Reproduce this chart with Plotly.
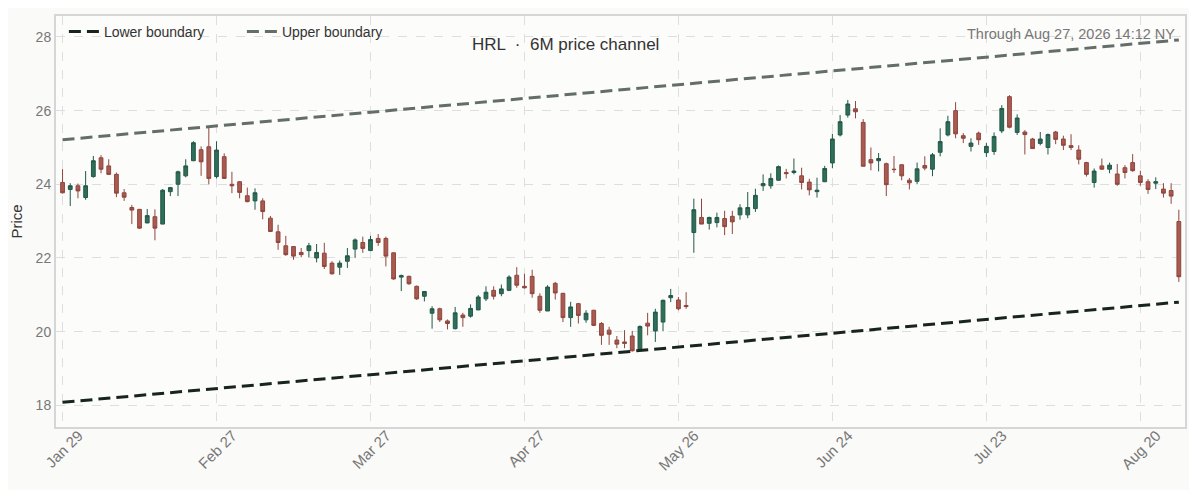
import pandas as pd
import plotly.graph_objects as go

# ---- data ----
holidays = ["2026-02-16", "2026-04-03", "2026-05-25", "2026-06-19", "2026-07-03"]
dates = [d for d in pd.bdate_range("2026-01-29", "2026-08-27") if d.strftime("%Y-%m-%d") not in holidays]
date_labels = [d.strftime("%Y-%m-%d") for d in dates]

open_ = [24.05, 23.86, 23.96, 23.64, 24.21, 24.72, 24.50, 24.27, 23.77, 23.37,
         23.32, 22.95, 23.12, 22.92, 23.80, 24.00, 24.23, 24.64, 24.94, 25.02,
         24.21, 24.75, 24.00, 24.07, 23.69, 23.55, 23.55, 23.08, 22.71, 22.33,
         22.31, 22.15, 22.20, 22.00, 22.13, 21.86, 21.75, 21.91, 22.24, 22.42,
         22.20, 22.53, 22.53, 22.14, 21.48, 21.50, 21.23, 20.96, 20.50, 20.62,
         20.29, 20.08, 20.45, 20.42, 20.59, 20.89, 21.12, 21.03, 21.12, 21.53,
         21.23, 21.50, 20.96, 20.56, 21.31, 21.04, 20.38, 20.76, 20.32, 20.58,
         20.22, 20.04, 19.77, 19.72, 19.88, 19.52, 20.23, 20.02, 20.26, 20.92,
         20.86, 20.71, 22.69, 23.10, 22.94, 22.96, 23.07, 23.13, 23.17, 23.17,
         23.34, 23.96, 23.96, 24.11, 24.32, 24.32, 24.23, 24.06, 23.80, 24.07,
         24.58, 25.34, 25.88, 26.05, 25.68, 24.67, 24.64, 24.56, 24.41, 24.53,
         24.11, 24.08, 24.51, 24.41, 24.87, 25.34, 26.00, 25.32, 25.03, 25.39,
         24.86, 24.89, 25.45, 26.38, 25.41, 25.42, 25.23, 25.11, 25.00, 25.42,
         25.23, 25.05, 24.93, 24.59, 24.05, 24.50, 24.41, 24.28, 24.45, 24.59,
         24.23, 24.07, 24.03, 23.87, 23.83, 22.99]
high = [24.41, 24.03, 24.02, 24.36, 24.77, 24.79, 24.68, 24.32, 23.87, 23.44,
        23.33, 23.33, 23.32, 23.87, 23.93, 24.37, 24.68, 25.17, 25.03, 25.56,
        25.17, 24.84, 24.34, 24.09, 23.91, 23.89, 23.62, 23.14, 22.90, 22.60,
        22.31, 22.27, 22.41, 22.38, 22.41, 21.91, 21.93, 22.27, 22.53, 22.58,
        22.60, 22.65, 22.58, 22.15, 21.55, 21.52, 21.25, 21.10, 20.69, 20.65,
        20.33, 20.67, 20.51, 20.74, 20.99, 21.23, 21.23, 21.28, 21.53, 21.75,
        21.57, 21.68, 21.04, 21.26, 21.35, 21.05, 20.81, 20.78, 20.58, 20.59,
        20.26, 20.13, 19.88, 20.04, 20.02, 20.17, 20.51, 20.62, 20.87, 21.16,
        20.94, 21.07, 23.61, 23.61, 23.12, 23.23, 23.28, 23.28, 23.46, 23.79,
        23.88, 24.27, 24.30, 24.51, 24.42, 24.70, 24.45, 24.15, 24.18, 24.50,
        25.37, 25.88, 26.29, 26.26, 25.77, 25.00, 24.85, 24.59, 24.77, 24.55,
        24.17, 24.59, 24.76, 24.85, 25.52, 25.86, 26.23, 25.39, 25.25, 25.43,
        25.12, 25.41, 26.15, 26.42, 25.90, 25.47, 25.26, 25.42, 25.38, 25.45,
        25.32, 25.36, 25.06, 24.61, 24.43, 24.70, 24.59, 24.55, 24.52, 24.82,
        24.37, 24.14, 24.19, 24.03, 24.03, 23.31]
low = [23.75, 23.41, 23.62, 23.58, 24.18, 24.30, 24.25, 23.65, 23.55, 22.92,
       22.79, 22.95, 22.48, 22.92, 23.68, 23.68, 24.19, 24.63, 24.23, 24.00,
       24.16, 24.16, 23.76, 23.62, 23.51, 23.31, 23.05, 22.72, 22.22, 22.06,
       21.95, 22.02, 22.02, 21.88, 21.70, 21.55, 21.54, 21.73, 22.00, 22.14,
       22.20, 22.33, 21.77, 21.41, 21.10, 21.27, 20.86, 20.82, 20.08, 20.26,
       20.06, 20.06, 20.13, 20.38, 20.58, 20.83, 20.87, 20.96, 21.10, 21.19,
       21.17, 20.92, 20.51, 20.56, 20.87, 20.26, 20.13, 20.22, 20.24, 20.15,
       19.64, 19.64, 19.55, 19.55, 19.46, 19.52, 19.90, 19.72, 20.01, 20.80,
       20.58, 20.62, 22.14, 22.92, 22.77, 22.83, 22.62, 22.65, 23.04, 23.08,
       23.25, 23.82, 23.88, 24.10, 24.16, 24.27, 23.86, 23.70, 23.64, 24.06,
       24.44, 25.30, 25.81, 25.79, 24.49, 24.38, 24.35, 23.68, 24.31, 24.11,
       23.86, 24.00, 24.38, 24.22, 24.76, 25.30, 25.25, 25.12, 24.89, 25.07,
       24.74, 24.80, 25.39, 25.52, 25.34, 24.81, 24.97, 25.06, 24.81, 25.09,
       24.93, 24.93, 24.54, 24.21, 23.91, 24.40, 24.30, 23.96, 24.16, 24.34,
       23.96, 23.74, 23.87, 23.64, 23.47, 21.35]
close = [23.77, 23.96, 23.82, 23.96, 24.64, 24.41, 24.27, 23.76, 23.65, 23.30,
         22.81, 23.15, 22.81, 23.84, 23.91, 24.34, 24.50, 25.13, 24.61, 24.16,
         24.93, 24.16, 23.96, 23.78, 23.53, 23.77, 23.26, 22.72, 22.42, 22.09,
         22.05, 22.09, 22.33, 22.15, 21.77, 21.57, 21.86, 22.06, 22.49, 22.26,
         22.50, 22.42, 22.05, 21.43, 21.52, 21.30, 20.89, 21.09, 20.62, 20.32,
         20.22, 20.51, 20.38, 20.63, 20.94, 21.07, 20.96, 21.16, 21.48, 21.26,
         21.19, 21.03, 20.58, 21.21, 21.05, 20.38, 20.67, 20.44, 20.50, 20.17,
         19.90, 19.93, 19.66, 19.68, 19.48, 20.14, 20.15, 20.53, 20.85, 20.98,
         20.62, 20.68, 23.31, 22.92, 23.10, 23.10, 22.85, 22.98, 23.36, 23.37,
         23.70, 24.02, 24.16, 24.48, 24.29, 24.36, 24.05, 23.85, 23.84, 24.43,
         25.23, 25.70, 26.18, 25.97, 24.49, 24.58, 24.70, 23.99, 24.40, 24.23,
         24.04, 24.42, 24.44, 24.80, 25.16, 25.70, 25.37, 25.25, 25.12, 25.21,
         25.03, 25.30, 26.06, 25.55, 25.80, 25.35, 24.97, 25.23, 25.35, 25.22,
         25.06, 25.00, 24.68, 24.27, 24.36, 24.41, 24.52, 24.00, 24.32, 24.37,
         24.05, 23.86, 24.07, 23.76, 23.68, 21.49]

lower_bound = [18.08, 20.80]
upper_bound = [25.21, 27.92]

tick_idx = [0, 20, 40, 60, 80, 100, 120, 140]
tick_text = ["Jan 29", "Feb 27", "Mar 27", "Apr 27", "May 26", "Jun 24", "Jul 23", "Aug 20"]
y_ticks = [18, 20, 22, 24, 26, 28]

# ---- figure ----
UP = "#2f6e58"
UP_LINE = "#22584a"
DN = "#ab5a51"
DN_LINE = "#8e463e"

fig = go.Figure()
fig.add_trace(go.Candlestick(
    x=date_labels, open=open_, high=high, low=low, close=close,
    increasing=dict(fillcolor=UP, line=dict(color=UP_LINE, width=1)),
    decreasing=dict(fillcolor=DN, line=dict(color=DN_LINE, width=1)),
    showlegend=False, name="HRL",
))
ends = [date_labels[0], date_labels[-1]]
fig.add_trace(go.Scatter(x=ends, y=lower_bound, mode="lines", name="Lower boundary",
                         line=dict(color="#18241e", width=3, dash="12px,6px")))
fig.add_trace(go.Scatter(x=ends, y=upper_bound, mode="lines", name="Upper boundary",
                         line=dict(color="#646e69", width=3, dash="12px,6px")))

grid = "#dedede"
fig.update_layout(
    width=1197, height=490,
    margin=dict(l=48, r=20, t=6, b=71),
    paper_bgcolor="#fafaf8",
    plot_bgcolor="#fcfcfa",
    font=dict(family="Liberation Sans, Arial, sans-serif", color="#444", size=14),
    boxgap=0.3,
    legend=dict(orientation="h", x=0.007, y=1.0, xanchor="left", yanchor="top",
                bgcolor="rgba(0,0,0,0)", font=dict(size=14, color="#333"),
                entrywidth=133, entrywidthmode="pixels"),
    xaxis=dict(type="category", rangeslider=dict(visible=False),
               range=[-0.85, len(date_labels) - 0.2],
               tickmode="array", tickvals=[date_labels[i] for i in tick_idx], ticktext=tick_text,
               tickangle=-45, tickfont=dict(size=15, color="#777"),
               ticklabelshift=16, ticklabelstandoff=-8,
               showgrid=True, gridcolor=grid, griddash="dash", gridwidth=1,
               showline=True, linecolor="#d6d6d6", linewidth=2, mirror=True,
               ticks="", zeroline=False),
    yaxis=dict(range=[17.41, 28.57], tickvals=y_ticks, tickfont=dict(size=14, color="#777"),
               title=dict(text="Price", font=dict(size=15, color="#333"), standoff=10),
               showgrid=True, gridcolor=grid, griddash="dash", gridwidth=1,
               showline=True, linecolor="#d6d6d6", linewidth=2, mirror=True,
               ticks="", zeroline=False),
    annotations=[
        dict(text="HRL  ·  6M price channel", x=0.451, y=0.93, xref="paper", yref="paper",
             xanchor="center", yanchor="middle", showarrow=False,
             font=dict(size=17, color="#333")),
        dict(text="Through Aug 27, 2026 14:12 NY", x=1, y=0.955, xref="paper", yref="paper",
             xanchor="right", yanchor="middle", xshift=-8, showarrow=False,
             font=dict(size=14.5, color="#777")),
    ],
)

fig.write_html("out.html")
